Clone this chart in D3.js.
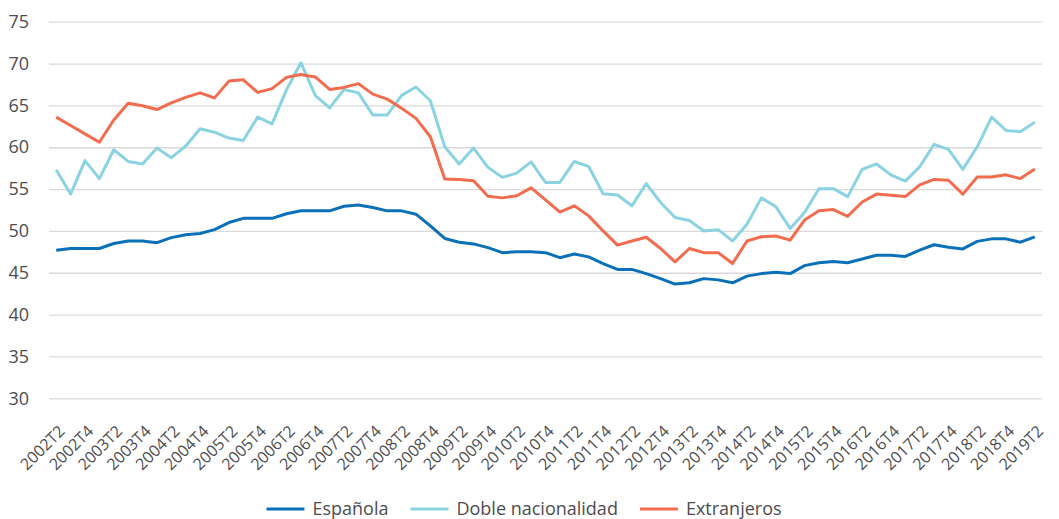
<!DOCTYPE html>
<html>
<head>
<meta charset="utf-8">
<script src="https://cdn.jsdelivr.net/npm/d3@7"></script>
<style>
  body { margin: 0; background: #fff; }
  svg { display: block; font-family: "Open Sans", sans-serif; }
</style>
</head>
<body>
<svg id="chart" width="1059" height="519"></svg>
<script>
const years = d3.range(2002, 2020);
const quarters = years.flatMap(y => [1, 2, 3, 4].map(q => `${y}T${q}`))
  .filter(d => d >= '2002T2' && d <= '2019T2');

const yTicks = [30, 35, 40, 45, 50, 55, 60, 65, 70, 75];

const espanola = [
  47.7, 47.9, 47.9, 47.9, 48.5, 48.8, 48.8, 48.6, 49.2, 49.55,
  49.7, 50.15, 51.0, 51.5, 51.5, 51.5, 52.05, 52.4, 52.4, 52.4,
  52.95, 53.1, 52.8, 52.4, 52.4, 52.0, 50.6, 49.1, 48.65, 48.45,
  48.0, 47.4, 47.5, 47.5, 47.4, 46.8, 47.25, 46.9, 46.1, 45.4,
  45.4, 44.9, 44.3, 43.65, 43.8, 44.3, 44.15, 43.8, 44.6, 44.9,
  45.05, 44.9, 45.85, 46.2, 46.35, 46.2, 46.65, 47.1, 47.1, 46.95,
  47.7, 48.35, 48.05, 47.85, 48.75, 49.05, 49.05, 48.65, 49.3
];

const doble = [
  57.3, 54.4, 58.4, 56.25, 59.7, 58.3, 58.0, 59.9, 58.75, 60.15,
  62.2, 61.8, 61.1, 60.8, 63.6, 62.8, 66.85, 70.1, 66.2, 64.7,
  66.9, 66.5, 63.85, 63.85, 66.2, 67.2, 65.55, 60.05, 58.0, 59.9,
  57.6, 56.4, 56.9, 58.25, 55.8, 55.8, 58.3, 57.7, 54.45, 54.3,
  53.0, 55.65, 53.4, 51.6, 51.25, 50.0, 50.15, 48.8, 50.8, 53.95,
  52.9, 50.3, 52.2, 55.05, 55.05, 54.1, 57.35, 58.0, 56.7, 55.95,
  57.65, 60.35, 59.75, 57.35, 60.05, 63.6, 62.0, 61.85, 63.0
];

const extranjeros = [
  63.6, 62.6, 61.6, 60.6, 63.25, 65.25, 64.95, 64.5, 65.3, 65.95,
  66.5, 65.9, 67.9, 68.05, 66.55, 67.0, 68.35, 68.7, 68.4, 66.9,
  67.15, 67.6, 66.35, 65.75, 64.65, 63.45, 61.25, 56.2, 56.15, 56.0,
  54.15, 53.95, 54.2, 55.15, 53.7, 52.25, 53.0, 51.8, 50.0, 48.3,
  48.8, 49.25, 47.9, 46.3, 47.9, 47.4, 47.4, 46.1, 48.8, 49.3,
  49.4, 48.9, 51.3, 52.4, 52.55, 51.75, 53.45, 54.4, 54.25, 54.1,
  55.5, 56.15, 56.05, 54.4, 56.45, 56.45, 56.7, 56.25, 57.4
];

const seriesNames = ['Española', 'Doble nacionalidad', 'Extranjeros'];
const seriesValues = [espanola, doble, extranjeros];
const colors = ['#0a71b9', '#8bd3e1', '#f26c4f'];

const svg = d3.select('#chart');
const textColor = '#4d4d4f';

const x = d3.scalePoint()
    .domain(quarters)
    .range([49, 1042])
    .padding(0.5);

const y = d3.scaleLinear()
    .domain([30, 75])
    .range([398.3, 21.7]);

// gridlines + y labels
svg.append('g')
    .attr('transform', 'translate(49,0)')
    .call(d3.axisLeft(y).tickValues(yTicks).tickSize(-993).tickPadding(20))
    .call(g => g.select('.domain').remove())
    .call(g => g.selectAll('.tick line').attr('stroke', '#d9d9d9').attr('stroke-width', 1.3))
    .call(g => g.selectAll('.tick text')
        .attr('fill', textColor)
        .attr('font-size', 18)
        .attr('font-family', '"Open Sans", sans-serif'));

// x labels, every second quarter
svg.append('g')
    .attr('transform', 'translate(0,398.3)')
    .call(d3.axisBottom(x).tickValues(quarters.filter((d, i) => i % 2 === 0)).tickSize(0))
    .call(g => g.select('.domain').remove())
    .call(g => g.selectAll('.tick text')
        .attr('fill', textColor)
        .attr('font-size', 16)
        .attr('font-family', '"Open Sans", sans-serif')
        .attr('text-anchor', 'end')
        .attr('y', 0)
        .attr('dy', null)
        .attr('transform', 'translate(9,34) rotate(-45)'));

// lines
const line = d3.line()
    .x((d, i) => x(quarters[i]))
    .y(d => y(d));

svg.append('g')
  .selectAll('path')
  .data(seriesValues)
  .join('path')
    .attr('fill', 'none')
    .attr('stroke', (d, i) => colors[i])
    .attr('stroke-width', 3)
    .attr('stroke-linejoin', 'round')
    .attr('d', line);

// legend
const legend = svg.append('g').attr('transform', 'translate(0,509)');
const items = legend.selectAll('g')
  .data(seriesNames)
  .join('g');

items.append('line')
    .attr('x1', 0).attr('x2', 38)
    .attr('stroke', (d, i) => colors[i])
    .attr('stroke-width', 3);

items.append('text')
    .attr('x', 46)
    .attr('dy', '0.32em')
    .attr('fill', textColor)
    .attr('font-size', 18)
    .text(d => d);

const widths = [];
items.each(function() {
  widths.push(46 + this.querySelector('text').getComputedTextLength());
});
const gap = 22;
const total = d3.sum(widths) + gap * (widths.length - 1);
let offset = 524 - total / 2;
items.attr('transform', (d, i) => {
  const t = `translate(${offset},0)`;
  offset += widths[i] + gap;
  return t;
});
</script>
</body>
</html>
